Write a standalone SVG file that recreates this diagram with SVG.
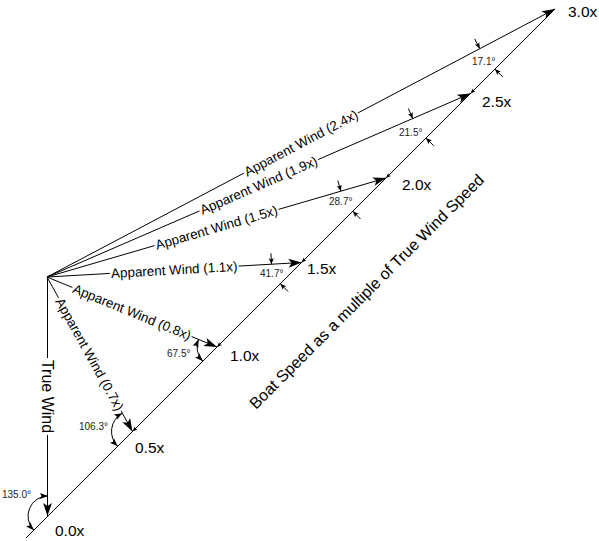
<svg xmlns="http://www.w3.org/2000/svg" width="599" height="541" viewBox="0 0 599 541">
<defs>
<marker id="big" markerUnits="userSpaceOnUse" viewBox="0 0 13 10" refX="13" refY="5" markerWidth="13" markerHeight="10" orient="auto" overflow="visible"><path d="M0,0.6 L13,5 L0,9.4 L3,5 Z" fill="#000"/></marker>
<marker id="dim" markerUnits="userSpaceOnUse" viewBox="0 0 6 5" refX="6" refY="2.5" markerWidth="6" markerHeight="5" orient="auto" overflow="visible"><path d="M0,0 L6,2.5 L0,5 L1.2,2.5 Z" fill="#000"/></marker>
<marker id="arc" markerUnits="userSpaceOnUse" viewBox="0 0 8 6" refX="8" refY="3" markerWidth="8" markerHeight="6" orient="auto-start-reverse" overflow="visible"><path d="M0,0 L8,3 L0,6 L1.5,3 Z" fill="#000"/></marker>
<marker id="tick" markerUnits="userSpaceOnUse" viewBox="0 0 5 4" refX="5" refY="2" markerWidth="5" markerHeight="4" orient="auto" overflow="visible"><path d="M0,0 L5,2 L0,4 L1,2 Z" fill="#000"/></marker>
</defs>
<style>
.ln{stroke:#000;stroke-width:1;fill:none}
.aw{marker-end:url(#big)}
.dm{stroke:#000;stroke-width:1;fill:none;marker-end:url(#dim)}
.ar{stroke:#000;stroke-width:1;fill:none;marker-start:url(#arc);marker-end:url(#arc)}
.tk{stroke:#000;stroke-width:1;fill:none;marker-end:url(#tick)}
text{font-family:"Liberation Sans",Arial,sans-serif;fill:#000}
.lbl{font-size:13.4px;text-anchor:middle}
.pt{font-size:15.5px}
.ang{font-size:10px;fill:#222}
.big{font-size:16px;text-anchor:middle}
.bg{fill:#fff}
</style>
<rect width="599" height="541" fill="#fff"/>
<g id="connectors">
<path class="ln" d="M26,538 L555,9"/>
<path class="ln aw" d="M47.5,277 L47.5,516"/>
<path class="ln aw" d="M47,277 L555,9"/>
<path class="ln aw" d="M47,277 L470.5,93.5"/>
<path class="ln aw" d="M47,277 L386,178"/>
<path class="ln aw" d="M47,277 L301.5,262.5"/>
<path class="ln aw" d="M47,277 L217,347"/>
<path class="ln aw" d="M47,277 L132.5,431.5"/>
</g>
<g id="label-true-wind" transform="translate(47.5,396.5) rotate(90)"><rect class="bg" x="-38.5" y="-3" width="77" height="6"/><text class="big" y="5.6">True Wind</text></g>
<g id="label-aw-24" transform="translate(301,143) rotate(-27.82)"><rect class="bg" x="-64.5" y="-3" width="129" height="6"/><text class="lbl" y="4.7">Apparent Wind (2.4x)</text></g>
<g id="label-aw-19" transform="translate(258.75,185.25) rotate(-23.43)"><rect class="bg" x="-64.5" y="-3" width="129" height="6"/><text class="lbl" y="4.7">Apparent Wind (1.9x)</text></g>
<g id="label-aw-15" transform="translate(216.5,227.5) rotate(-16.28)"><rect class="bg" x="-64.5" y="-3" width="129" height="6"/><text class="lbl" y="4.7">Apparent Wind (1.5x)</text></g>
<g id="label-aw-11" transform="translate(174.25,269.75) rotate(-3.26)"><rect class="bg" x="-64.5" y="-3" width="129" height="6"/><text class="lbl" y="4.7">Apparent Wind (1.1x)</text></g>
<g id="label-aw-08" transform="translate(132,312) rotate(22.38)"><rect class="bg" x="-64.5" y="-3" width="129" height="6"/><text class="lbl" y="4.7">Apparent Wind (0.8x)</text></g>
<g id="label-aw-07" transform="translate(89.75,354.25) rotate(61.04)"><rect class="bg" x="-64.5" y="-3" width="129" height="6"/><text class="lbl" y="4.7">Apparent Wind (0.7x)</text></g>
<g id="label-boat-speed"><text class="big" transform="translate(370.5,295.5) rotate(-45)">Boat Speed as a multiple of True Wind Speed</text></g>
<g id="pt-00"><text class="pt" x="55" y="536">0.0x</text></g>
<g id="pt-05"><path class="tk" d="M137,427 L132.5,431.5"/><text class="pt" x="135" y="453">0.5x</text></g>
<g id="pt-10"><path class="tk" d="M221.5,342.5 L217,347"/><text class="pt" x="230" y="361">1.0x</text></g>
<g id="pt-15"><path class="tk" d="M306,258 L301.5,262.5"/><text class="pt" x="307" y="274">1.5x</text></g>
<g id="pt-20"><path class="tk" d="M390.5,173.5 L386,178"/><text class="pt" x="402" y="190">2.0x</text></g>
<g id="pt-25"><path class="tk" d="M475,89 L470.5,93.5"/><text class="pt" x="482" y="107">2.5x</text></g>
<g id="pt-30"><text class="pt" x="568" y="17">3.0x</text></g>
<g id="ang-135"><path class="ar" d="M48,496 A20,20 0 0,0 33.86,530.14"/><text class="ang" x="2" y="497.5">135.0°</text></g>
<g id="ang-106"><path class="ar" d="M122.33,413.13 A21,21 0 0,0 117.65,446.35"/><text class="ang" x="79" y="430">106.3°</text></g>
<g id="ang-67"><path class="ar" d="M198.51,339.39 A20,20 0 0,0 202.86,361.14"/><text class="ang" x="167" y="357">67.5°</text></g>
<g id="ang-41"><path class="dm" d="M270.92,253.23 L271.55,264.21"/><path class="dm" d="M288.07,291.49 L280.29,283.71"/><text class="ang" x="260" y="277">41.7°</text></g>
<g id="ang-28"><path class="dm" d="M337.8,180.61 L340.88,191.17"/><path class="dm" d="M360.55,219.01 L352.77,211.23"/><text class="ang" x="329" y="205">28.7°</text></g>
<g id="ang-21"><path class="dm" d="M408.33,108.46 L412.7,118.55"/><path class="dm" d="M433.73,145.83 L425.95,138.05"/><text class="ang" x="399" y="136">21.5°</text></g>
<g id="ang-17"><path class="dm" d="M474.69,38.93 L479.82,48.66"/><path class="dm" d="M502.68,76.88 L494.9,69.1"/><text class="ang" x="472" y="65">17.1°</text></g>
</svg>
